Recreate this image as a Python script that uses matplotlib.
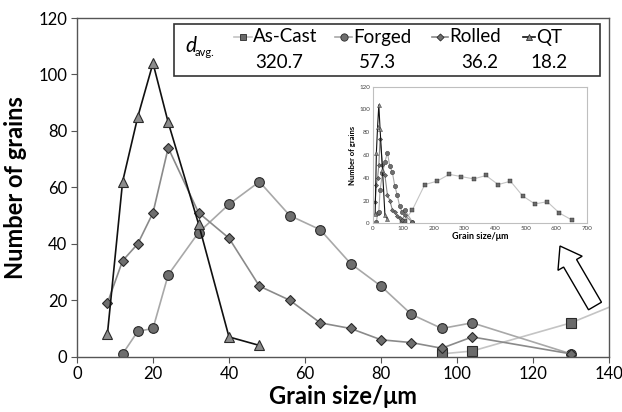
import matplotlib
matplotlib.use('Agg')
import matplotlib.pyplot as plt
from matplotlib.lines import Line2D
from matplotlib.patches import Rectangle, FancyArrow
from matplotlib.transforms import Affine2D

plt.rcParams['font.family'] = ['Lato', 'DejaVu Sans']

# grain size distributions (size in um, number of grains)
cast_x = [96, 104, 130, 170, 210, 250, 290, 330, 370, 410, 450, 490, 530, 570, 610, 650]
cast_y = [1, 2, 12, 34, 37, 43, 41, 39, 42, 34, 37, 24, 17, 19, 9, 3]
forged_x = [12, 16, 20, 24, 32, 40, 48, 56, 64, 72, 80, 88, 96, 104, 130]
forged_y = [1, 9, 10, 29, 44, 54, 62, 50, 45, 33, 25, 15, 10, 12, 1]
rolled_x = [8, 12, 16, 20, 24, 32, 40, 48, 56, 64, 72, 80, 88, 96, 104, 130]
rolled_y = [19, 34, 40, 51, 74, 51, 42, 25, 20, 12, 10, 6, 5, 3, 7, 1]
qt_x = [8, 12, 16, 20, 24, 32, 40, 48]
qt_y = [8, 62, 85, 104, 83, 47, 7, 4]

names = ['As-Cast', 'Forged', 'Rolled', 'QT']
d_avg = ['320.7', '57.3', '36.2', '18.2']

W, H = 622, 412
fig = plt.figure(figsize=(W / 100, H / 100), dpi=100)
px = Affine2D().scale(1 / W, -1 / H).translate(0, 1) + fig.transFigure

styles = [
    dict(color='#c4c4c4', marker='s', mfc='#6a6a6a', mec='#2a2a2a', ms=6.5),
    dict(color='#a8a8a8', marker='o', mfc='#6e6e6e', mec='#2a2a2a', ms=7),
    dict(color='#8a8a8a', marker='D', mfc='#6e6e6e', mec='#2a2a2a', ms=4.8),
    dict(color='#101010', marker='^', mfc='#8c8c8c', mec='#2a2a2a', ms=6.5),
]
series = [(cast_x, cast_y), (forged_x, forged_y), (rolled_x, rolled_y), (qt_x, qt_y)]

ax = fig.add_axes([77 / W, 1 - 356.7 / H, 532 / W, 338.7 / H])
for (xs, ys), st in zip(series, styles):
    ax.plot(xs, ys, lw=1.2, mew=0.8, **st)
ax.set_xlim(0, 140)
ax.set_ylim(0, 120)
ax.set_xticks(range(0, 141, 20))
ax.set_yticks(range(0, 121, 20))
ax.tick_params(labelsize=12, length=4, width=0.8, color='#555555', pad=3)
for s in ax.spines.values():
    s.set_color('#555555')
    s.set_linewidth(1.0)
ax.set_xlabel('Grain size/\u03bcm', fontsize=17, fontweight='bold', labelpad=2)
ax.set_ylabel('Number of grains', fontsize=17, fontweight='bold', labelpad=8)

# inset with full size range
ins = fig.add_axes([372.7 / W, 1 - 223.3 / H, 214.3 / W, 136.6 / H])
for (xs, ys), st in zip(series, styles):
    s2 = dict(st)
    s2['ms'] = st['ms'] * 0.45
    ins.plot(xs, ys, lw=0.8, mew=0.3, **s2)
ins.set_xlim(0, 700)
ins.set_ylim(0, 120)
ins.set_xticks(range(0, 701, 100))
ins.set_yticks(range(0, 121, 20))
ins.tick_params(labelsize=4.5, length=0, pad=2, labelcolor='#444444')
for s in ins.spines.values():
    s.set_color('#bfbfbf')
    s.set_linewidth(0.8)
ins.set_xlabel('Grain size/\u03bcm', fontsize=6.5, fontweight='bold', labelpad=1)
ins.set_ylabel('Number of grains', fontsize=5.5, fontweight='bold', labelpad=2)

# legend box with average sizes
fig.add_artist(Rectangle((174, 76), 426, -52, transform=px, fill=False,
                         ec='#333333', lw=1.2))
fig.text(185 / W, 1 - 46 / H, 'd', style='italic', fontsize=15, ha='left', va='center')
fig.text(195 / W, 1 - 52 / H, 'avg.', fontsize=8, ha='left', va='center')
mark_x = [243, 343.5, 440, 529]
half = [9, 8.5, 8, 6]
text_x = [253, 353, 449, 536]
val_x = [279, 377, 480, 549]
for i in range(4):
    st = styles[i]
    fig.add_artist(Line2D([mark_x[i] - half[i], mark_x[i] + half[i]], [37.5, 37.5],
                          transform=px, color=st['color'], lw=1.2))
    fig.add_artist(Line2D([mark_x[i]], [37.5], transform=px, ls='none',
                          marker=st['marker'], mfc=st['mfc'], mec=st['mec'],
                          ms=st['ms'] * 0.75, mew=0.6))
    fig.text(text_x[i] / W, 1 - 37 / H, names[i], fontsize=13.5, ha='left', va='center')
    fig.text(val_x[i] / W, 1 - 63 / H, d_avg[i], fontsize=13.5, ha='center', va='center')

# hollow arrow pointing to the inset
fig.add_artist(FancyArrow(595, 306, -35, -60, width=15, head_width=28, head_length=20,
                          transform=px, fc='white', ec='black', lw=1.0,
                          length_includes_head=True))

fig.savefig('out.png', dpi=100)
